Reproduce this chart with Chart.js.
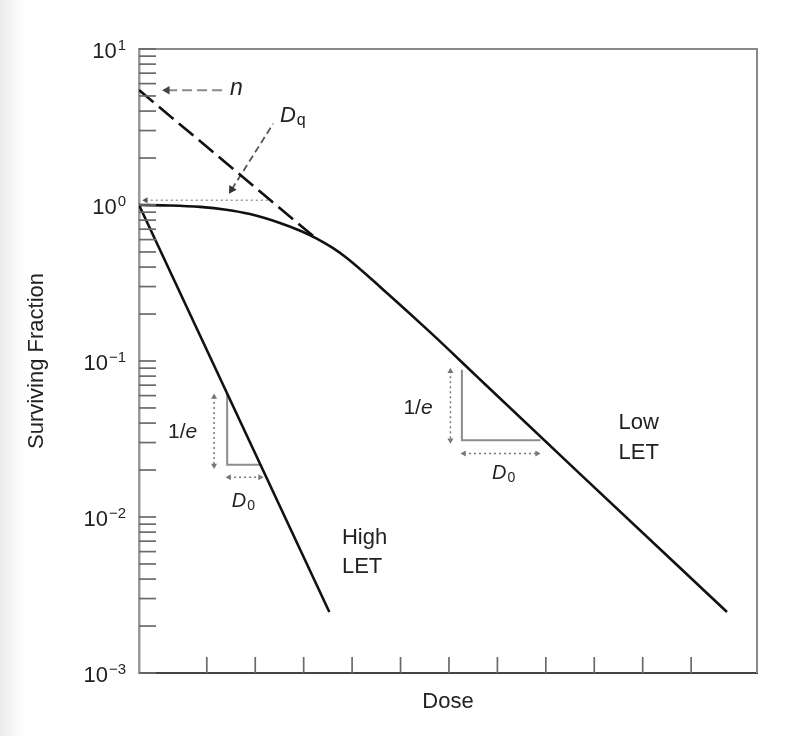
<!DOCTYPE html>
<html><head><meta charset="utf-8">
<script src="https://cdn.jsdelivr.net/npm/chart.js@4.4.1/dist/chart.umd.min.js"></script>
<style>
html,body{margin:0;padding:0;}
body{background:linear-gradient(to right,#ebebeb 0px,#f6f6f6 12px,#ffffff 26px);}
#wrap{width:808px;height:736px;position:relative;}
</style></head><body>
<div id="wrap"><canvas id="c"></canvas></div>
<script>
// ---------- axes ----------
const xTicks = [1.4, 2.4, 3.4, 4.4, 5.4, 6.4, 7.4, 8.4, 9.4, 10.4, 11.4];
const xMin = 0, xMax = 12.76;
const yMin = 0.001, yMax = 10;
const yDecades = [10, 1, 0.1, 0.01, 0.001];
const yExponents = ['1', '0', '\u22121', '\u22122', '\u22123'];
const yTickValues = [];
for (let k = -3; k <= 0; k++) for (let m = 1; m <= 9; m++) yTickValues.push(+(m * Math.pow(10, k)).toPrecision(3));
yTickValues.push(10);

// ---------- survival curves ----------
const highLetDose = [0, 3.93];
const highLetSurv = [1, 0.00246];

const lowLetDose = [0, 0.64, 1.26, 1.8, 2.29, 2.91, 3.33, 3.67, 4.0, 4.29, 4.98, 6.01, 6.98, 9.11, 12.14];
const lowLetSurv = [1, 0.9931, 0.9727, 0.9333, 0.875, 0.7674, 0.6839, 0.6095, 0.5309, 0.4571, 0.2985, 0.1531, 0.0794, 0.01884, 0.00246];

const extrapDose = [0, 3.67];
const extrapSurv = [5.46, 0.605];

// ---------- construction marks (1/e triangles, Dq, n) ----------
const hiTriDose = [1.82, 1.82, 2.50];
const hiTriSurv = [0.0617, 0.0216, 0.0216];
const loTriDose = [6.667, 6.667, 8.29];
const loTriSurv = [0.088, 0.031, 0.031];

const hiVArrowDose = [1.55, 1.55];
const hiVArrowSurv = [0.0588, 0.0214];
const hiHArrowDose = [1.86, 2.50];
const hiHArrowSurv = [0.0180, 0.0180];
const loVArrowDose = [6.43, 6.43];
const loVArrowSurv = [0.0859, 0.0310];
const loHArrowDose = [6.71, 8.22];
const loHArrowSurv = [0.0255, 0.0255];

const dqLineDose = [0.14, 2.71];
const dqLineSurv = [1.072, 1.072];
const nArrowDose = [0.58, 1.82];
const nArrowSurv = [5.44, 5.44];
const dqArrowDose = [1.913, 2.77];
const dqArrowSurv = [1.257, 3.32];

const zip = (xs, ys) => xs.map((x, i) => ({x, y: ys[i]}));

// ---------- text labels (data coords of left baseline) ----------
const labelItems = [
  {parts: [['n', 'i']], x: 1.88, y: 5.07, size: 23},
  {parts: [['D', 'i'], ['q', 's']], x: 2.91, y: 3.40, size: 22},
  {parts: [['1/', 'n'], ['e', 'i']], x: 0.60, y: 0.0321, size: 21},
  {parts: [['D', 'i'], ['0', 's']], x: 1.915, y: 0.01159, size: 20},
  {parts: [['1/', 'n'], ['e', 'i']], x: 5.46, y: 0.0459, size: 21},
  {parts: [['D', 'i'], ['0', 's']], x: 7.29, y: 0.01753, size: 20},
  {parts: [['High', 'n']], x: 4.19, y: 0.00674, size: 22},
  {parts: [['LET', 'n']], x: 4.19, y: 0.00438, size: 22},
  {parts: [['Low', 'n']], x: 9.90, y: 0.0368, size: 22},
  {parts: [['LET', 'n']], x: 9.90, y: 0.02365, size: 22}
];

const FONT = '"Liberation Sans", Arial, Helvetica, sans-serif';
Chart.defaults.font.family = FONT;

function lineDs(label, data, color, width, dash, extra) {
  return Object.assign({
    label, data, borderColor: color, backgroundColor: color, borderWidth: width,
    borderDash: dash || [], pointRadius: 0, pointHoverRadius: 0, fill: false, tension: 0,
    pointStyle: 'triangle', pointBackgroundColor: color, pointBorderWidth: 0
  }, extra || {});
}

const datasets = [
  lineDs('High LET', zip(highLetDose, highLetSurv), '#111', 2.6),
  lineDs('Low LET', zip(lowLetDose, lowLetSurv), '#111', 2.6, null, {cubicInterpolationMode: 'monotone'}),
  lineDs('Extrapolation', zip(extrapDose, extrapSurv), '#111', 2.6, [19, 7]),
  lineDs('High tri', zip(hiTriDose, hiTriSurv), '#8c8c8c', 2),
  lineDs('Low tri', zip(loTriDose, loTriSurv), '#8c8c8c', 2),
  lineDs('hi v', zip(hiVArrowDose, hiVArrowSurv), '#777', 1.5, [2, 3], {pointRadius: [3.5, 3.5], pointRotation: [0, 180]}),
  lineDs('hi h', zip(hiHArrowDose, hiHArrowSurv), '#777', 1.5, [2, 3], {pointRadius: [3.5, 3.5], pointRotation: [270, 90]}),
  lineDs('lo v', zip(loVArrowDose, loVArrowSurv), '#777', 1.5, [2, 3], {pointRadius: [3.5, 3.5], pointRotation: [0, 180]}),
  lineDs('lo h', zip(loHArrowDose, loHArrowSurv), '#777', 1.5, [2, 3], {pointRadius: [3.5, 3.5], pointRotation: [270, 90]}),
  lineDs('Dq line', zip(dqLineDose, dqLineSurv), '#9a9a9a', 1.6, [2, 3], {pointRadius: [3.5, 0], pointRotation: [270, 0], pointBackgroundColor: '#555'}),
  lineDs('n arrow', zip(nArrowDose, nArrowSurv), '#8a8a8a', 2, [10, 5], {pointRadius: [5, 0], pointRotation: [270, 0], pointBackgroundColor: '#444'}),
  lineDs('Dq arrow', zip(dqArrowDose, dqArrowSurv), '#555', 1.8, [7, 4], {pointRadius: [5, 0], pointRotation: [212, 0], pointBackgroundColor: '#333'})
];

const decor = {
  id: 'decor',
  afterDraw(chart) {
    const {ctx, chartArea: a, scales: {x, y}} = chart;
    ctx.save();
    // top / right frame
    ctx.strokeStyle = '#8a8a8a'; ctx.lineWidth = 2;
    ctx.beginPath(); ctx.moveTo(a.left, a.top); ctx.lineTo(a.right, a.top); ctx.lineTo(a.right, a.bottom); ctx.stroke();
    // inside ticks
    ctx.strokeStyle = '#6a6a6a'; ctx.lineWidth = 1.7;
    y.ticks.forEach(t => {
      const py = y.getPixelForValue(t.value);
      ctx.beginPath(); ctx.moveTo(a.left, py); ctx.lineTo(a.left + 17, py); ctx.stroke();
    });
    x.ticks.forEach(t => {
      const px = x.getPixelForValue(t.value);
      ctx.beginPath(); ctx.moveTo(px, a.bottom); ctx.lineTo(px, a.bottom - 16); ctx.stroke();
    });
    // y tick labels 10^k
    ctx.fillStyle = '#222'; ctx.textBaseline = 'alphabetic'; ctx.textAlign = 'left';
    const right = a.left - 13;
    yDecades.forEach((v, i) => {
      const py = y.getPixelForValue(v);
      const base = py + 9;
      ctx.font = '15px ' + FONT; const ew = ctx.measureText(yExponents[i]).width;
      ctx.font = '22px ' + FONT; const bw = ctx.measureText('10').width;
      ctx.fillText('10', right - ew - bw - 1, base);
      ctx.font = '15px ' + FONT; ctx.fillText(yExponents[i], right - ew, base - 8);
    });
    // annotation labels
    labelItems.forEach(it => {
      let cx = x.getPixelForValue(it.x);
      const by = y.getPixelForValue(it.y);
      it.parts.forEach(([t, st]) => {
        let fs = it.size, dy = 0, style = 'normal';
        if (st === 'i') style = 'italic';
        if (st === 's') { fs = Math.round(it.size * 0.72); dy = 3; }
        ctx.font = style + ' ' + fs + 'px ' + FONT;
        ctx.fillText(t, cx, by + dy);
        cx += ctx.measureText(t).width + (st === 'i' ? 1 : 0);
      });
    });
    ctx.restore();
  }
};

new Chart(document.getElementById('c'), {
  type: 'line',
  data: {datasets},
  plugins: [decor],
  options: {
    animation: false, responsive: true, maintainAspectRatio: false, events: [],
    layout: {padding: {left: 0, right: 51, top: 49, bottom: 0}},
    plugins: {legend: {display: false}, tooltip: {enabled: false}},
    scales: {
      x: {
        type: 'linear', min: xMin, max: xMax,
        afterBuildTicks: s => { s.ticks = xTicks.map(v => ({value: v})); },
        afterFit: s => { s.height = 63; },
        ticks: {display: false, autoSkip: false},
        grid: {display: true, drawOnChartArea: false, drawTicks: false},
        border: {display: true, color: '#444', width: 2},
        title: {display: true, text: 'Dose', color: '#222', font: {size: 22, family: FONT}, padding: {top: 0, bottom: 21}}
      },
      y: {
        type: 'logarithmic', min: yMin, max: yMax,
        afterBuildTicks: s => { s.ticks = yTickValues.map(v => ({value: v})); },
        afterFit: s => { s.width = 139; },
        ticks: {display: false, autoSkip: false},
        grid: {display: true, drawOnChartArea: false, drawTicks: false},
        border: {display: true, color: '#9a9a9a', width: 2.5},
        title: {display: true, text: 'Surviving Fraction', color: '#222', font: {size: 22, family: FONT}, padding: {top: 24, bottom: 0}}
      }
    }
  }
});
</script>
</body></html>
